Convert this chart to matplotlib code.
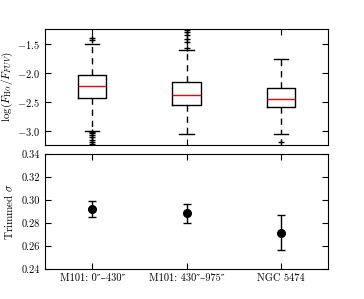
import matplotlib

matplotlib.use("Agg")
import matplotlib.pyplot as plt

plt.rcParams.update({
    "font.family": ["cmr10", "DejaVu Serif"],
    "mathtext.fontset": "cm",
    "axes.formatter.use_mathtext": True,
    "font.size": 7.5,
    "xtick.direction": "in",
    "ytick.direction": "in",
    "xtick.top": True,
    "ytick.right": True,
    "xtick.major.size": 4,
    "ytick.major.size": 4,
})

labels = ["M101: 0\u2033\u2013430\u2033",
          "M101: 430\u2033\u2013975\u2033",
          "NGC 5474"]

# box stats for log(F_Ha / F_FUV)
med = [-2.24, -2.38, -2.45]
q1 = [-2.44, -2.56, -2.60]
q3 = [-2.05, -2.17, -2.26]
whislo = [-3.00, -3.06, -3.06]
whishi = [-1.50, -1.62, -1.76]
fliers = [
    [-1.41, -1.44, -3.02, -3.05, -3.08, -3.12, -3.16, -3.20, -3.23],
    [-1.27, -1.31, -1.36, -1.42, -1.48, -1.58],
    [-3.20],
]

# trimmed sigma
sigma = [0.2925, 0.2883, 0.2717]
sigma_err = [0.0070, 0.0083, 0.0155]

stats = []
for i in range(3):
    stats.append({"med": med[i], "q1": q1[i], "q3": q3[i],
                  "whislo": whislo[i], "whishi": whishi[i],
                  "fliers": fliers[i]})

fig = plt.figure(figsize=(3.64, 2.99), dpi=100)
ax1 = fig.add_axes([0.124, 0.515, 0.777, 0.388])
ax2 = fig.add_axes([0.124, 0.100, 0.777, 0.385])

pos = [1, 2, 3]
ax1.bxp(stats, positions=pos, widths=0.3,
        boxprops=dict(color="black", linewidth=1),
        medianprops=dict(color="red", linewidth=1),
        whiskerprops=dict(color="black", linestyle="--", dashes=(4.5, 3.5), linewidth=1),
        capprops=dict(color="black", linewidth=1),
        flierprops=dict(marker="+", markeredgecolor="black", markersize=5,
                        linestyle="none"))
ax1.set_xlim(0.5, 3.5)
ax1.set_ylim(-3.25, -1.25)
ax1.set_yticks([-3.0, -2.5, -2.0, -1.5])
ax1.set_xticks(pos)
ax1.set_xticklabels([])
ax1.set_ylabel(r"$\log(F_{\rm H\alpha}/F_{FUV})$", fontsize=8)
ax1.yaxis.set_label_coords(-0.105, 0.5)

ax2.errorbar(pos, sigma, yerr=sigma_err, fmt="o", color="black",
             markersize=5.5, capsize=3, elinewidth=1, capthick=1)
ax2.set_xlim(0.5, 3.5)
ax2.set_ylim(0.24, 0.34)
ax2.set_yticks([0.24, 0.26, 0.28, 0.30, 0.32, 0.34])
ax2.set_yticklabels(["%.2f" % v for v in [0.24, 0.26, 0.28, 0.30, 0.32, 0.34]])
ax2.set_xticks(pos)
ax2.set_xticklabels(labels)
ax2.set_ylabel(r"Trimmed $\sigma$", fontsize=8)
ax2.yaxis.set_label_coords(-0.105, 0.5)

fig.savefig("out.png", dpi=100)
